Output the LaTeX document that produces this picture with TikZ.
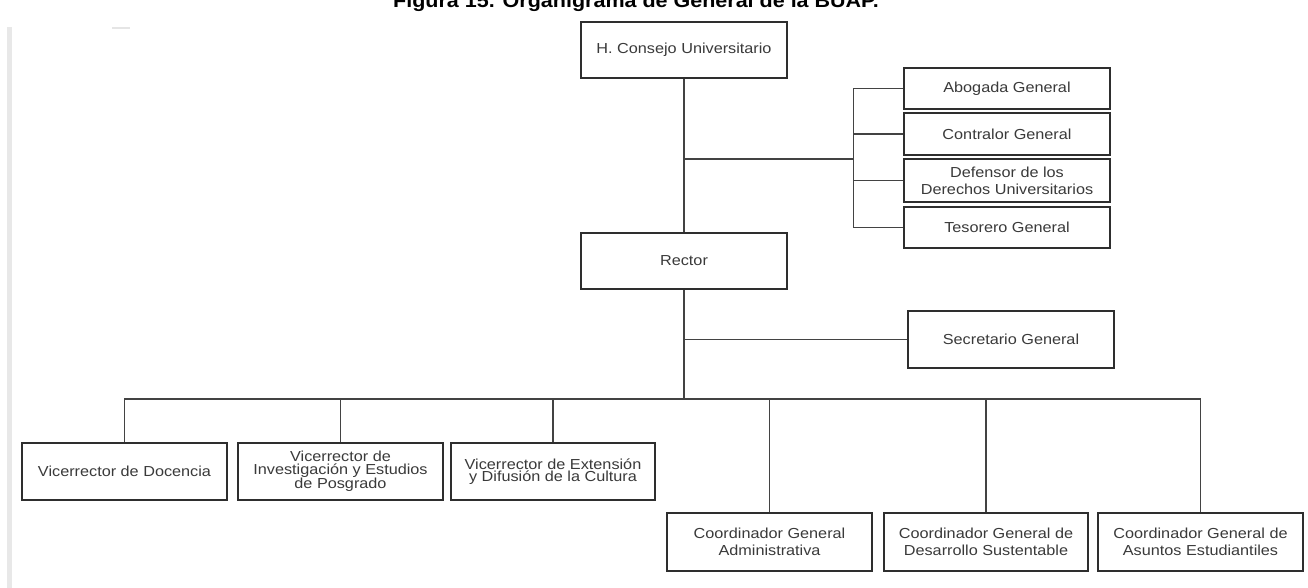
\documentclass[tikz,border=0pt]{standalone}
\usepackage{fontspec}
\setmainfont{Liberation Sans}
\newfontfamily\boxfont[FakeStretch=1.12]{Liberation Sans}
\definecolor{txt}{HTML}{3A3A3A}
\definecolor{ln}{HTML}{2E2E2E}
\begin{document}
\begin{tikzpicture}[x=1pt,y=-1pt,
  box/.style={draw=ln,line width=1.5pt,rectangle,inner sep=1pt,align=center,
    font=\boxfont\fontsize{14.5}{16.7}\selectfont,text=txt},
  tight/.style={font=\boxfont\fontsize{14.5}{12.6}\selectfont},
  conn/.style={draw=ln!90,line width=1.5pt}]
\useasboundingbox (0,0) rectangle (1308,588);
\fill[white] (0,0) rectangle (1308,588);
% margin marks
\fill[black!9] (7,27) rectangle (12,588);
\draw[black!10,line width=1.5pt] (112,28) -- (130,28);
% title
\node[anchor=base,text=black,font=\boxfont\bfseries\fontsize{19.2}{20}\selectfont] (title) at (636,7.5) {Figura 15. Organigrama de General de la BUAP.};
% boxes
\node[box,minimum width=206pt,minimum height=56pt] (consejo) at (684,50) {H. Consejo Universitario};
\node[box,minimum width=206pt,minimum height=41pt] (abogada) at (1007,88.5) {Abogada General};
\node[box,minimum width=206pt,minimum height=42pt] (contralor) at (1007,134) {Contralor General};
\node[box,minimum width=206pt,minimum height=43pt] (defensor) at (1007,180.5) {Defensor de los\\Derechos Universitarios};
\node[box,minimum width=206pt,minimum height=41pt] (tesorero) at (1007,227.5) {Tesorero General};
\node[box,minimum width=206pt,minimum height=56pt] (rector) at (684,261) {Rector};
\node[box,minimum width=206pt,minimum height=57pt] (secretario) at (1011,339.5) {Secretario General};
\node[box,minimum width=205pt,minimum height=57pt] (docencia) at (124.5,471.5) {Vicerrector de Docencia};
\node[box,tight,minimum width=205pt,minimum height=57pt] (investigacion) at (340.5,471.5) {Vicerrector de\\Investigación y Estudios\\de Posgrado};
\node[box,tight,minimum width=204pt,minimum height=57pt] (extension) at (553,471.5) {Vicerrector de Extensión\\y Difusión de la Cultura};
\node[box,minimum width=205pt,minimum height=58pt] (administrativa) at (769.5,542) {Coordinador General\\Administrativa};
\node[box,minimum width=204pt,minimum height=58pt] (desarrollo) at (986,542) {Coordinador General de\\Desarrollo Sustentable};
\node[box,minimum width=205pt,minimum height=58pt] (asuntos) at (1200.5,542) {Coordinador General de\\Asuntos Estudiantiles};
% connectors
\coordinate (j1) at (684,159);
\coordinate (br) at (854,159);
\coordinate (bus) at (684,399);
\draw[conn] (consejo.south) -- (rector.north);
\draw[conn] (j1) -- (br);
\draw[conn] (abogada.west) -- ++(-50pt,0) |- (tesorero.west);
\draw[conn] (contralor.west) -- ++(-50pt,0);
\draw[conn] (defensor.west) -- ++(-50pt,0);
\draw[conn] (rector.south) -- (bus);
\draw[conn] (rector.south |- secretario.west) -- (secretario.west);
\draw[conn] (docencia.north) |- (bus) -| (asuntos.north);
\draw[conn] (investigacion.north) -- (investigacion.north |- bus);
\draw[conn] (extension.north) -- (extension.north |- bus);
\draw[conn] (administrativa.north) -- (administrativa.north |- bus);
\draw[conn] (desarrollo.north) -- (desarrollo.north |- bus);
\end{tikzpicture}
\end{document}
